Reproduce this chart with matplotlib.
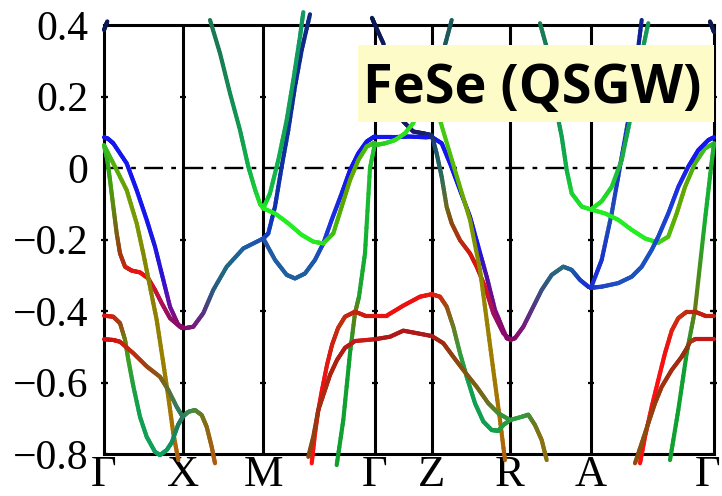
import numpy as np
import matplotlib
matplotlib.use("Agg")
import matplotlib.pyplot as plt
from matplotlib.collections import LineCollection
from matplotlib.colors import to_rgb
from matplotlib.patches import Rectangle
from matplotlib.transforms import ScaledTranslation

# ---------------- data ----------------
kpath_pos = [0.0, 0.787, 1.593, 2.71, 3.277, 4.06, 4.87, 6.10]
kpath_labels = ["Γ", "X", "M", "Γ", "Z", "R", "A", "Γ"]
yticks = [0.4, 0.2, 0.0, -0.2, -0.4, -0.6, -0.8]
ytick_labels = ["0.4", "0.2", "0", "\u22120.2", "\u22120.4", "\u22120.6", "\u22120.8"]
title = "FeSe (QSGW)"

# Gamma - X - M
bA_k = [0, .04, .093, .227, .327, .427, .51, .593, .66, .743, .81, .893, .993, 1.093, 1.227, 1.393, 1.593]
bA_E = [.086, .082, .069, .013, -.062, -.145, -.22, -.313, -.388, -.439, -.448, -.444, -.406, -.341, -.276, -.225, -.197]
bA_c = ['#1515f0', '#1515f0', '#1515f0', '#1515f0', '#1515f0', '#1515f0', '#1a18e0', '#3010d0', '#6a10a0', '#8a0a70',
        '#8a0a6a', '#7a1a7a', '#5a3080', '#2a5a80', '#1e6a80', '#1f5fa0', '#1f50b0']

bB_k = [0, .033, .06, .093, .127, .16, .21, .277, .36, .443, .51, .577, .66, .76, .787]
bB_E = [.064, .023, -.034, -.108, -.183, -.239, -.276, -.287, -.292, -.309, -.341, -.378, -.42, -.444, -.448]
bB_c = ['#20c020', '#30b020', '#40a010', '#5a8a10', '#7a6010', '#9a3a10', '#c02a10', '#e01515', '#ee1010',
        '#ee1010', '#d01030', '#b01050', '#901060', '#8a0a6a', '#8a0a6a']

bC_k = [0, .093, .227, .327, .393, .46, .527, .593, .643, .693, .743]
bC_E = [.064, .013, -.062, -.155, -.239, -.332, -.425, -.546, -.64, -.742, -.817]
bC_c = ['#30c020', '#50b010', '#6aa000', '#7a9a00', '#808a00', '#8a8000', '#908000', '#988000', '#a07a00',
        '#a87000', '#b06010']

bD_k = [0, .093, .16, .21, .243, .293, .36, .427, .51, .56, .627, .677, .74, .787]
bD_E = [-.413, -.416, -.434, -.48, -.536, -.61, -.696, -.752, -.794, -.803, -.789, -.768, -.719, -.696]
bD_c = ['#e01010', '#d02010', '#a04010', '#707a10', '#40a020', '#20a040', '#10a050', '#10a055', '#10a060',
        '#10a060', '#10a060', '#109060', '#1a8060', '#2a7a60']

bE_k = [0, .093, .16, .293, .427, .56, .643, .727, .787]
bE_E = [-.479, -.481, -.486, -.518, -.555, -.584, -.621, -.668, -.696]
bE_c = ['#d01010', '#d01010', '#d01a10', '#c02a10', '#a04010', '#8a5a15', '#607030', '#3a7a5a', '#2a7a60']

bF_k = [.787, .843, .91, .977, 1.027, 1.077, 1.11]
bF_E = [-.696, -.682, -.677, -.691, -.724, -.78, -.826]
bF_c = ['#2a7a60', '#3a8a50', '#4a8a40', '#6a7a20', '#8a6a10', '#a06010', '#b05a10']

bG_k = [1.06, 1.16, 1.26, 1.36, 1.443, 1.51, 1.56, 1.593]
bG_E = [.414, .321, .209, .106, .004, -.06, -.1, -.113]
bG_c = ['#1a7a55', '#1a7a55', '#158a55', '#109a50', '#10b048', '#18c838', '#20e028', '#22ee22']

bN_k = [0, .033]
bN_E = [.386, .41]
bN_c = ['#0a1a50', '#0a1a50']

# M - Gamma
bH_k = [1.593, 1.643, 1.71, 1.777, 1.843, 1.91, 1.977, 2.06]
bH_E = [-.197, -.183, -.108, .004, .106, .228, .33, .43]
bH_c = ['#1a40b0', '#1040c0', '#1030b0', '#1030a0', '#10309a', '#102a90', '#102a88', '#10287f']

bI_k = [1.593, 1.66, 1.743, 1.827, 1.893, 1.96, 1.993]
bI_E = [-.113, -.071, .022, .134, .246, .367, .436]
bI_c = ['#22ee22', '#10c040', '#10b050', '#10a055', '#10a060', '#109a60', '#109a60']

bJ_k = [1.593, 1.71, 1.827, 1.91, 2.01, 2.11, 2.193, 2.277, 2.377, 2.46, 2.543, 2.627, 2.693, 2.71]
bJ_E = [-.197, -.257, -.299, -.309, -.295, -.257, -.211, -.145, -.071, -.006, .041, .074, .086, .088]
bJ_c = ['#1f50b0', '#1f5fa0', '#1f5fa0', '#1f5fa0', '#1f5fa0', '#1f58a8', '#1a40d0', '#1a30e0', '#1525e0',
        '#1515f0', '#1515f0', '#1515f0', '#1515f0', '#1515f0']

bK_k = [1.593, 1.71, 1.843, 1.977, 2.093, 2.193, 2.293, 2.377, 2.46, 2.543, 2.627, 2.693, 2.71]
bK_E = [-.113, -.127, -.155, -.187, -.206, -.211, -.183, -.108, -.034, .022, .06, .069, .069]
bK_c = ['#22ee22', '#22ee22', '#22ee22', '#22ee22', '#22ee22', '#30e020', '#40c010', '#58a800', '#60a800',
        '#58b000', '#48c010', '#40c020', '#30c020']

bL_k = [2.71, 2.66, 2.61, 2.55, 2.51, 2.46, 2.393, 2.327]
bL_E = [.069, 0.0, -.239, -.36, -.406, -.518, -.705, -.831]
bL_c = ['#20c030', '#20c030', '#10b030', '#20a030', '#6a7a10', '#10a030', '#10a030', '#10a030']

bM1_k = [2.71, 2.61, 2.51, 2.41, 2.34, 2.28, 2.23, 2.18, 2.14, 2.11, 2.077]
bM1_E = [-.413, -.413, -.402, -.416, -.448, -.495, -.551, -.621, -.683, -.742, -.826]
bM1_c = ['#d01a10', '#d01a10', '#c82010', '#c02a10', '#c03010', '#d02010', '#e01a10', '#f01010', '#ff1010',
         '#ff1010', '#ff1010']

bM2_k = [2.71, 2.51, 2.41, 2.33, 2.26, 2.21, 2.143, 2.093, 2.043]
bM2_E = [-.479, -.484, -.503, -.537, -.579, -.621, -.677, -.752, -.808]
bM2_c = ['#c81818', '#c81818', '#b81818', '#b02010', '#b02010', '#b02a10', '#a03010', '#904010', '#8a4a10']

# Gamma - Z - R
bO_k = [2.68, 2.71, 2.793, 2.9, 2.993, 3.093, 3.193, 3.277]
bO_E = [.42, .40, .349, .22, .13, .102, .097, .092]
bO_c = ['#0a1a50', '#0a1a50', '#101a5a', '#101a5a', '#141a62', '#1a1a6a', '#1a1a6a', '#1a2a6a']

bP_k = [2.71, 2.877, 3.043, 3.21, 3.277]
bP_E = [.086, .086, .088, .086, .087]
bP_c = ['#1515f0', '#1515f0', '#1515f0', '#1515f0', '#1515f0']

bPr_k = [3.277, 3.377, 3.46, 3.56, 3.66, 3.743, 3.827, 3.91, 4.027, 4.06]
bPr_E = [.087, .069, .013, -.062, -.136, -.22, -.304, -.397, -.476, -.479]
bPr_c = ['#1515f0', '#1515f0', '#1515f0', '#1515f0', '#1515f0', '#1515f0', '#5010a0', '#7a0a80', '#8a0a6a',
         '#8a0a6a']

bQ_k = [3.277, 3.327, 3.377, 3.427, 3.477, 3.56, 3.66, 3.727, 3.81, 3.893, 3.993, 4.06]
bQ_E = [.092, .04, -.025, -.109, -.155, -.202, -.239, -.276, -.332, -.406, -.462, -.479]
bQ_c = ['#1a2a6a', '#1a5a6a', '#2a6a5a', '#6a6a20', '#8a4a10', '#b03010', '#d01a10', '#e01010', '#e01020',
        '#a01060', '#8a0a6a', '#8a0a6a']

bS_k = [2.71, 2.81, 2.91, 3.01, 3.09, 3.2, 3.277, 3.33, 3.36, 3.46, 3.56, 3.66, 3.76, 3.827, 3.893, 3.96, 4.01]
bS_E = [.064, .069, .078, .097, .125, .19, .2, .17, .134, .04, -.053, -.145, -.285, -.425, -.565, -.705, -.817]
bS_c = ['#30c020', '#28d020', '#30e020', '#30e020', '#30e020', '#30e020', '#30e020', '#38e018', '#40d010',
        '#50c010', '#60b000', '#7a9a00', '#8a8a00', '#9a8000', '#a07a00', '#a87000', '#b06010']

bT_k = [3.36, 3.41, 3.477]
bT_E = [.25, .344, .414]
bT_c = ['#1a5a5a', '#1a5a5a', '#1a5a5a']

bR1_k = [2.71, 2.827, 2.993, 3.16, 3.277, 3.36, 3.427, 3.493, 3.56, 3.627, 3.71, 3.793, 3.877, 3.943, 3.993, 4.06]
bR1_E = [-.413, -.413, -.385, -.36, -.353, -.36, -.388, -.444, -.518, -.584, -.658, -.709, -.733, -.735, -.719,
         -.705]
bR1_c = ['#ee1010', '#ee1010', '#ee1010', '#ee1010', '#e81810', '#d02a10', '#a04a10', '#6a7a20', '#3a9a3a',
         '#10a050', '#10a050', '#10a050', '#10a050', '#18a048', '#20a040', '#2a9a40']

bR2_k = [2.71, 2.86, 2.993, 3.127, 3.277, 3.393, 3.493, 3.593, 3.727, 3.843, 3.943, 4.06]
bR2_E = [-.479, -.472, -.455, -.462, -.47, -.49, -.528, -.565, -.612, -.658, -.686, -.705]
bR2_c = ['#b01818', '#b01818', '#b01818', '#b01818', '#b01818', '#a02a10', '#904010', '#8a5010', '#7a6010',
         '#6a7020', '#4a8a30', '#2a9a40']

# R - A - Gamma
bU_k = [4.06, 4.11, 4.193, 4.277, 4.377, 4.477, 4.593, 4.677, 4.76, 4.843, 4.87]
bU_E = [-.481, -.476, -.444, -.397, -.341, -.299, -.276, -.285, -.313, -.332, -.335]
bU_c = ['#8a0a6a', '#8a0a6a', '#7a1a80', '#5a3080', '#3a5080', '#2a6080', '#2a6a7a', '#2060a0', '#1a40c0',
        '#1a30d0', '#1a30d0']

bV_k = [4.06, 4.177, 4.243, 4.31, 4.377, 4.427]
bV_E = [-.705, -.696, -.69, -.719, -.761, -.817]
bV_c = ['#2a9a40', '#30a040', '#40903a', '#6a7a20', '#8a7010', '#8a7010']

bW_k = [4.36, 4.443, 4.51, 4.577, 4.627, 4.677, 4.777, 4.87]
bW_E = [.405, .321, .181, .088, -.006, -.071, -.108, -.116]
bW_c = ['#1a7a55', '#1a7a55', '#158a55', '#10a050', '#10b048', '#18d030', '#20e028', '#22ee22']

bX_k = [4.87, 4.977, 5.077, 5.16, 5.243, 5.31, 5.377]
bX_E = [-.335, -.257, -.127, .004, .134, .265, .414]
bX_c = ['#1a30d0', '#1a30d0', '#2050b0', '#1a30d0', '#1a30c0', '#1020a0', '#102090']

bY_k = [4.87, 4.977, 5.077, 5.177, 5.26, 5.343, 5.443]
bY_E = [-.116, -.093, -.053, .022, .134, .274, .405]
bY_c = ['#22ee22', '#20e020', '#20d030', '#20b040', '#10a050', '#109a55', '#109a55']

bZ_k = [4.87, 5.01, 5.143, 5.277, 5.41, 5.543, 5.643, 5.727, 5.81, 5.91, 6.01, 6.10]
bZ_E = [-.116, -.127, -.145, -.173, -.197, -.209, -.192, -.127, -.053, .013, .055, .069]
bZ_c = ['#22ee22', '#22ee22', '#22ee22', '#22ee22', '#22ee22', '#30e020', '#50c010', '#60a800', '#60a800',
        '#50b010', '#40c020', '#30c020']

bAA_k = [4.87, 4.977, 5.143, 5.277, 5.377, 5.477, 5.543, 5.643, 5.743, 5.843, 5.943, 6.043, 6.10]
bAA_E = [-.335, -.332, -.322, -.304, -.276, -.229, -.192, -.127, -.053, .004, .05, .078, .086]
bAA_c = ['#1a30d0', '#1f45c8', '#1f4fc0', '#1f50c0', '#1f50c0', '#1a50c0', '#1a48c8', '#1a40d0', '#1a30e0',
         '#1820e8', '#1515f0', '#1515f0', '#1515f0']

bAB_k = [6.10, 6.07, 6.01, 5.91, 5.827, 5.743, 5.66]
bAB_E = [.069, 0.0, -.145, -.397, -.518, -.677, -.817]
bAB_c = ['#20b030', '#20b030', '#10b030', '#6a7a10', '#10a030', '#10a030', '#10a030']

bAC_k = [6.10, 6.01, 5.91, 5.827, 5.743, 5.677, 5.61, 5.543, 5.477, 5.41, 5.36]
bAC_E = [-.413, -.413, -.402, -.402, -.42, -.455, -.518, -.593, -.668, -.752, -.826]
bAC_c = ['#c02010', '#c02010', '#c02010', '#c02a10', '#c83010', '#e02010', '#f01010', '#ff1010', '#ff1010',
         '#ff1010', '#ff1010']

bAD_k = [6.10, 5.91, 5.86, 5.827, 5.777, 5.677, 5.577, 5.51, 5.443, 5.377, 5.31]
bAD_E = [-.479, -.479, -.486, -.505, -.528, -.565, -.612, -.658, -.714, -.77, -.826]
bAD_c = ['#c01818', '#c01818', '#a04010', '#8a3a10', '#a02a10', '#a82a10', '#a03010', '#983a10', '#904510',
         '#8a5010', '#8a5010']

bAE_k = [6.06, 6.10]
bAE_E = [.41, .38]
bAE_c = ['#0a1a50', '#0a1a50']

bands = [
    (bA_k, bA_E, bA_c), (bB_k, bB_E, bB_c), (bC_k, bC_E, bC_c), (bD_k, bD_E, bD_c), (bE_k, bE_E, bE_c),
    (bF_k, bF_E, bF_c), (bG_k, bG_E, bG_c), (bN_k, bN_E, bN_c), (bH_k, bH_E, bH_c), (bI_k, bI_E, bI_c),
    (bJ_k, bJ_E, bJ_c), (bK_k, bK_E, bK_c), (bL_k, bL_E, bL_c), (bM1_k, bM1_E, bM1_c), (bM2_k, bM2_E, bM2_c),
    (bO_k, bO_E, bO_c), (bP_k, bP_E, bP_c), (bPr_k, bPr_E, bPr_c), (bQ_k, bQ_E, bQ_c), (bS_k, bS_E, bS_c),
    (bT_k, bT_E, bT_c), (bR1_k, bR1_E, bR1_c), (bR2_k, bR2_E, bR2_c), (bU_k, bU_E, bU_c), (bV_k, bV_E, bV_c),
    (bW_k, bW_E, bW_c), (bX_k, bX_E, bX_c), (bY_k, bY_E, bY_c), (bZ_k, bZ_E, bZ_c), (bAA_k, bAA_E, bAA_c),
    (bAB_k, bAB_E, bAB_c), (bAC_k, bAC_E, bAC_c), (bAD_k, bAD_E, bAD_c), (bAE_k, bAE_E, bAE_c),
]

# ---------------- drawing ----------------
W, H = 722, 496
fig = plt.figure(figsize=(W / 100, H / 100), dpi=100)
ax = fig.add_axes([104 / W, 42 / H, (714 - 104) / W, (454 - 25) / H])
ax.set_xlim(kpath_pos[0], kpath_pos[-1])
ax.set_ylim(-0.8, 0.4)

for s in ax.spines.values():
    s.set_linewidth(2.2)
    s.set_zorder(2)

for kp in kpath_pos[1:-1]:
    ax.axvline(kp, color='black', lw=2.2, zorder=1.5)
ax.axhline(0, color='black', lw=1.7, ls=(0, (8, 3.5, 2, 3.5)), zorder=1.5)

# small tick marks on each vertical line
for kp in kpath_pos:
    ax.plot([kp] * 4, [0.2, -0.2, -0.4, -0.6], ls='none', marker='_', ms=5, mew=1.6, color='black',
            zorder=1.6, clip_on=False)


def draw_band(k, e, cols, nsub=10):
    segs, cs = [], []
    for i in range(len(k) - 1):
        c0 = np.array(to_rgb(cols[i]))
        c1 = np.array(to_rgb(cols[i + 1]))
        for j in range(nsub):
            t0, t1 = j / nsub, (j + 1) / nsub
            segs.append([(k[i] + (k[i + 1] - k[i]) * t0, e[i] + (e[i + 1] - e[i]) * t0),
                         (k[i] + (k[i + 1] - k[i]) * t1, e[i] + (e[i + 1] - e[i]) * t1)])
            cs.append(c0 + (c1 - c0) * (t0 + t1) / 2)
    lc = LineCollection(segs, colors=cs, linewidths=3.0, capstyle='round', joinstyle='round',
                        zorder=3, clip_on=False)
    ax.add_collection(lc)


for k, e, c in bands:
    draw_band(k, e, c)

serif = ['Liberation Serif', 'DejaVu Serif']
ax.set_yticks(yticks)
ax.set_yticklabels(ytick_labels, fontfamily=serif, fontsize=30)
ax.set_xticks(kpath_pos)
ax.set_xticklabels(kpath_labels, fontfamily=serif, fontsize=32)
ax.tick_params(axis='y', direction='in', length=3, width=1.6, pad=11, right=True)
ax.tick_params(axis='x', length=0, pad=1)
# keep the last Γ label inside the picture
last = ax.get_xticklabels()[-1]
last.set_transform(last.get_transform() + ScaledTranslation(-6 / 100, 0, fig.dpi_scale_trans))

# title box
fig.patches.append(Rectangle((358 / W, 1 - 122 / H), (714 - 358) / W, (122 - 45) / H,
                             transform=fig.transFigure, facecolor='#fdfcc8', edgecolor='none', zorder=5))
fig.text(532.5 / W, 1 - 103 / H, title, ha='center', va='baseline', fontsize=39,
         fontweight='bold', fontfamily=['Open Sans', 'DejaVu Sans'], zorder=6)

fig.savefig('out.png', dpi=100)
